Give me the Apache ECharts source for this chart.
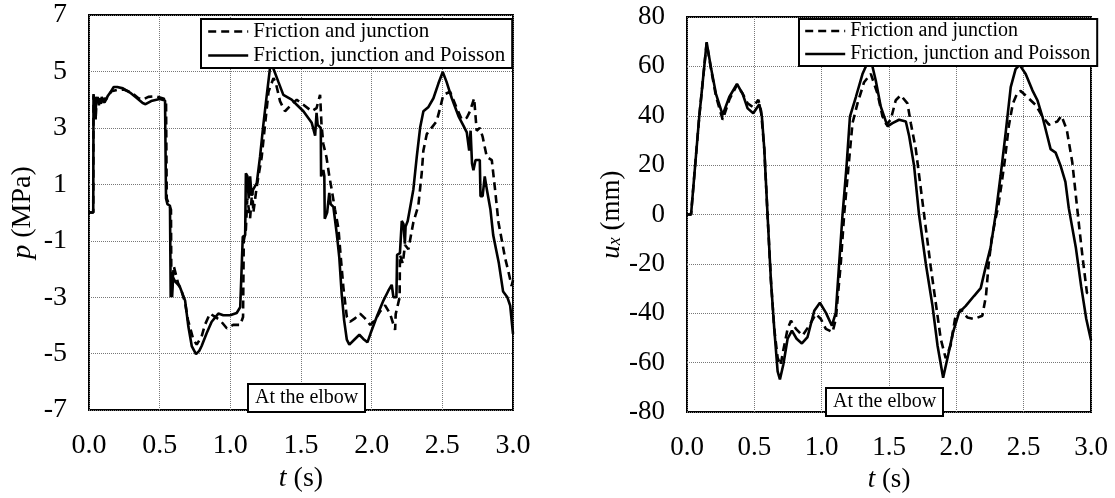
<!DOCTYPE html>
<html>
<head>
<meta charset="utf-8">
<script src="https://cdn.jsdelivr.net/npm/echarts@6/dist/echarts.min.js"></script>
<style>
html,body{margin:0;padding:0;background:#fff;}
#c{width:1115px;height:498px;}
</style>
</head>
<body>
<div id="c"></div>
<script>
// ---------- data ----------
const nameFJ = 'Friction and junction';
const nameFJP = 'Friction, junction and Poisson';
const annotation = 'At the elbow';

const pTicks = [-7, -5, -3, -1, 1, 3, 5, 7];
const tTicks = [0, 0.5, 1, 1.5, 2, 2.5, 3];
const uTicks = [-80, -60, -40, -20, 0, 20, 40, 60, 80];

// Left: pressure p (MPa), solid = friction, junction and Poisson
const pT_fjp = [0,0.03,0.032,0.045,0.047,0.05,0.058,0.062,0.07,0.075,0.085,0.09,0.1,0.105,0.12,0.135,0.15,0.175,0.2,0.24,0.29,0.34,0.38,0.4,0.44,0.5,0.538,0.545,0.555,0.573,0.578,0.583,0.588,0.595,0.61,0.63,0.644,0.68,0.703,0.727,0.757,0.78,0.797,0.833,0.868,0.915,0.95,0.998,1.045,1.07,1.084,1.088,1.105,1.11,1.12,1.13,1.14,1.15,1.16,1.187,1.21,1.234,1.258,1.28,1.295,1.34,1.375,1.434,1.47,1.517,1.576,1.6,1.61,1.618,1.64,1.642,1.658,1.665,1.668,1.685,1.7,1.71,1.729,1.753,1.771,1.788,1.805,1.824,1.842,1.882,1.913,1.941,1.97,1.993,2.036,2.083,2.118,2.142,2.15,2.154,2.175,2.18,2.2,2.213,2.225,2.235,2.24,2.255,2.27,2.295,2.319,2.343,2.366,2.4,2.437,2.472,2.503,2.53,2.567,2.614,2.65,2.673,2.69,2.7,2.705,2.71,2.72,2.735,2.765,2.77,2.785,2.8,2.815,2.84,2.86,2.88,2.9,2.93,2.96,2.98,3.0];
const pV_fjp = [0,0,4.2,4.2,3.3,4.1,3.9,4.1,3.8,4.05,3.85,4.1,3.9,4.05,4.0,4.15,4.25,4.45,4.45,4.4,4.25,4.05,3.88,3.84,3.95,4.02,3.97,0.5,0.3,0.24,-3.0,-2.2,-3.0,-2.3,-2.45,-2.55,-2.65,-3.12,-4.04,-4.73,-5.02,-4.9,-4.73,-4.27,-3.87,-3.58,-3.64,-3.64,-3.56,-3.35,-3.3,-0.86,-0.8,1.39,1.3,0.5,1.28,0.6,0.8,1.04,1.97,3.13,4.17,5.09,5.23,4.63,4.17,4.0,3.82,3.59,3.18,2.72,3.53,3.1,3.0,1.28,1.51,1.3,-0.22,0.0,0.7,0.3,0.2,-0.75,-1.6,-2.89,-3.81,-4.5,-4.68,-4.48,-4.33,-4.48,-4.6,-4.27,-3.69,-3.12,-2.77,-2.56,-2.6,-3.0,-3.0,-1.5,-1.44,-0.3,-0.4,-1.1,-0.5,-0.3,0.12,0.82,1.97,3.01,3.59,3.73,4.05,4.57,4.98,4.63,4.05,3.42,3.07,2.84,2.2,2.9,2.85,1.74,1.5,1.86,1.86,0.58,0.58,1.28,0.82,0.12,-0.8,-1.3,-1.8,-2.8,-3.0,-3.3,-4.3];

// Left: pressure p (MPa), dashed = friction and junction
const pT_fj = [0,0.03,0.032,0.045,0.048,0.053,0.07,0.09,0.11,0.13,0.16,0.2,0.25,0.3,0.35,0.38,0.42,0.47,0.52,0.545,0.55,0.565,0.58,0.583,0.6,0.61,0.63,0.65,0.68,0.7,0.738,0.762,0.797,0.82,0.856,0.89,0.927,0.975,1.02,1.07,1.09,1.095,1.11,1.12,1.14,1.155,1.163,1.187,1.222,1.246,1.27,1.305,1.32,1.352,1.387,1.42,1.47,1.517,1.576,1.61,1.635,1.645,1.658,1.68,1.7,1.717,1.74,1.765,1.78,1.8,1.824,1.847,1.882,1.918,1.953,1.99,2.024,2.06,2.095,2.13,2.166,2.17,2.198,2.2,2.22,2.236,2.26,2.295,2.33,2.354,2.366,2.39,2.425,2.46,2.484,2.507,2.555,2.602,2.637,2.673,2.696,2.725,2.743,2.765,2.786,2.8,2.815,2.85,2.873,2.897,2.944,2.967,2.99,3.0];
const pV_fj = [0,0,4.15,4.15,3.4,4.0,3.9,4.0,3.9,4.1,4.3,4.35,4.35,4.25,4.05,4.0,4.1,4.12,4.05,4.0,0.5,0.3,0.1,-2.9,-1.9,-2.1,-2.5,-2.7,-3.2,-3.8,-4.5,-4.68,-4.39,-3.98,-3.58,-3.69,-3.81,-4.1,-3.98,-3.98,-3.7,-1.0,-0.6,0.5,-0.2,0.8,0.0,0.93,1.97,3.13,4.28,4.76,4.63,3.94,3.59,3.76,4.0,3.82,3.59,3.7,4.17,3.13,2.43,1.97,1.3,0.82,0.12,-0.57,-1.5,-2.66,-3.69,-3.87,-3.75,-3.58,-3.75,-3.98,-3.81,-3.5,-3.29,-3.58,-4.16,-3.6,-3.0,-1.5,-1.8,-1.15,-1.3,-0.34,0.24,1.39,2.2,2.78,3.01,3.24,3.7,4.17,4.28,3.7,3.3,3.36,3.59,4.05,2.9,3.0,2.67,2.32,1.97,1.86,0.82,-0.34,-1.61,-2.08,-2.6,-2.4];

// Right: displacement u_x (mm), solid = friction, junction and Poisson
const uT_fjp = [0,0.03,0.091,0.146,0.178,0.215,0.265,0.314,0.371,0.413,0.45,0.492,0.537,0.556,0.574,0.598,0.623,0.648,0.673,0.69,0.715,0.747,0.779,0.814,0.853,0.895,0.945,0.987,1.031,1.076,1.105,1.13,1.155,1.185,1.21,1.254,1.303,1.348,1.365,1.402,1.439,1.489,1.526,1.575,1.625,1.65,1.686,1.723,1.773,1.823,1.86,1.902,1.934,1.976,2.02,2.07,2.131,2.181,2.218,2.255,2.292,2.329,2.366,2.404,2.44,2.47,2.515,2.565,2.602,2.639,2.676,2.7,2.737,2.774,2.81,2.835,2.887,2.927,2.965,3.0];
const uV_fjp = [0,0,39.7,69.8,59.5,48.9,40.3,47.6,52.9,48.9,43,41,44.7,39.7,26.5,0,-26.5,-46.3,-63.5,-66.8,-60.8,-50.3,-47,-50.3,-52.2,-49.6,-39,-35.7,-39.7,-45,-39.7,-19.8,0,19.8,39.7,47.6,56.9,62.4,62.8,54.2,43.7,35.7,37,38.4,37.7,31.7,19.8,0,-19.8,-37,-52.9,-66.1,-58.2,-47.6,-39.7,-37,-33,-29.8,-21.2,-13.2,0,15.9,33,51.6,58.9,60.6,56.9,50.3,46.3,39.7,31.7,26.5,25.1,19.8,13.2,2.6,-13.2,-29.1,-42.3,-50.9];

// Right: displacement u_x (mm), dashed = friction and junction
const uT_fj = [0,0.03,0.091,0.146,0.178,0.215,0.265,0.314,0.371,0.413,0.45,0.49,0.53,0.55,0.574,0.598,0.623,0.648,0.673,0.695,0.715,0.747,0.772,0.809,0.858,0.907,0.957,0.994,1.031,1.081,1.105,1.142,1.167,1.2,1.229,1.266,1.315,1.365,1.415,1.452,1.481,1.513,1.55,1.587,1.637,1.662,1.699,1.736,1.773,1.81,1.847,1.884,1.921,1.958,1.99,2.033,2.082,2.131,2.193,2.22,2.24,2.262,2.29,2.31,2.335,2.36,2.39,2.42,2.455,2.478,2.527,2.59,2.639,2.688,2.75,2.78,2.82,2.861,2.887,2.913,2.94,2.97,3.0];
const uV_fj = [0,0,39.7,69.5,59,48,38.4,46.5,52.5,49,45,43.5,46.5,42,26.5,0,-26.5,-46.3,-58,-61,-55,-46.3,-43,-46.3,-49,-45,-40.3,-42.3,-46.3,-47.6,-42.3,-19.8,0,19.8,37,45,53.6,57,48.9,39.7,36.4,38.4,46.3,48.3,45,37,26.5,10.6,-5.3,-21.2,-35.7,-50.3,-58.2,-52.9,-42.3,-38.4,-41.7,-42.3,-41,-33,-20,-10,-2,3,12,22,36,45,49.5,50,47.6,44.3,39.7,36.4,37.7,40,34.4,21.2,7.9,-5.3,-18.5,-31.7,-33];

// ---------- chart ----------
const FONT = '"Liberation Serif", "Times New Roman", serif';
const zip = (xs, ys) => xs.map((x, i) => [x, ys[i]]);

const chart = echarts.init(document.getElementById('c'), null, {renderer: 'canvas'});

const txt = size => ({fontFamily: FONT, fontSize: size, color: '#000'});
const splitStyle = {show: true, lineStyle: {color: '#777', width: 1, type: [1, 1]}};

function xAx(gridIndex, size) {
  return {
    type: 'value', gridIndex, min: tTicks[0], max: tTicks[tTicks.length - 1], interval: 0.5,
    axisLine: {show: false}, axisTick: {show: false},
    axisLabel: Object.assign({margin: 22, formatter: v => v.toFixed(1)}, txt(size)),
    splitLine: splitStyle,
    name: '{i|t} (s)', nameLocation: 'middle', nameGap: 50,
    nameTextStyle: Object.assign({rich: {i: Object.assign({fontStyle: 'italic'}, txt(size))}}, txt(size))
  };
}

function legendFor(left, top, size, padLeft) {
  return {
    left, top,
    orient: 'vertical', selectedMode: false,
    data: [nameFJ, nameFJP],
    itemWidth: 40, itemHeight: 19, itemGap: 3,
    padding: [2, 7, 2, padLeft],
    borderColor: '#000', borderWidth: 2, borderRadius: 0,
    backgroundColor: '#fff',
    itemStyle: {opacity: 0},
    lineStyle: {width: 2.4},
    textStyle: txt(size)
  };
}

function titleFor(left, top) {
  return {
    left, top,
    text: annotation,
    textStyle: Object.assign({fontWeight: 'normal'}, txt(20)),
    padding: [4, 7, 4, 7],
    borderColor: '#000', borderWidth: 2, backgroundColor: '#fff'
  };
}

const lineSolid = {color: '#000', width: 2.6, type: 'solid'};
const lineDash = {color: '#000', width: 2.6, type: [8, 5]};

chart.setOption({
  animation: false,
  backgroundColor: '#fff',
  grid: [
    {left: 89, top: 15, width: 424, height: 404, show: true, borderColor: '#000', borderWidth: 2, backgroundColor: 'transparent'},
    {left: 687, top: 17, width: 404, height: 404, show: true, borderColor: '#000', borderWidth: 2, backgroundColor: 'transparent'}
  ],
  xAxis: [xAx(0, 28), xAx(1, 27)],
  yAxis: [
    {
      type: 'value', gridIndex: 0, min: pTicks[0], max: pTicks[pTicks.length - 1],
      axisLine: {show: false},
      axisTick: {show: false, customValues: pTicks},
      axisLabel: Object.assign({margin: 22, customValues: pTicks}, txt(28)),
      splitLine: splitStyle,
      name: '{i|p} (MPa)', nameLocation: 'middle', nameGap: 52,
      nameTextStyle: Object.assign({rich: {i: Object.assign({fontStyle: 'italic'}, txt(28))}}, txt(28))
    },
    {
      type: 'value', gridIndex: 1, min: uTicks[0], max: uTicks[uTicks.length - 1], interval: 20,
      axisLine: {show: false}, axisTick: {show: false},
      axisLabel: Object.assign({margin: 22}, txt(27)),
      splitLine: splitStyle,
      name: '{i|u}{s|x}{n| (mm)}', nameLocation: 'middle', nameGap: 55,
      nameTextStyle: Object.assign({rich: {
        i: Object.assign({fontStyle: 'italic', lineHeight: 30, verticalAlign: 'top'}, txt(27)),
        s: Object.assign({fontStyle: 'italic', lineHeight: 30, verticalAlign: 'top', padding: [8, 0, 0, 0]}, txt(18)),
        n: Object.assign({lineHeight: 30, verticalAlign: 'top'}, txt(27))
      }}, txt(27))
    }
  ],
  legend: [
    legendFor(201, 19, 21, 6),
    legendFor(799, 19, 20, 5)
  ],
  title: [
    titleFor(248, 384),
    titleFor(826, 388)
  ],
  series: [
    {name: nameFJ, type: 'line', xAxisIndex: 0, yAxisIndex: 0, symbol: 'none', lineStyle: lineDash, itemStyle: {color: '#000'}, data: zip(pT_fj, pV_fj)},
    {name: nameFJP, type: 'line', xAxisIndex: 0, yAxisIndex: 0, symbol: 'none', lineStyle: lineSolid, itemStyle: {color: '#000'}, data: zip(pT_fjp, pV_fjp)},
    {name: nameFJ, type: 'line', xAxisIndex: 1, yAxisIndex: 1, symbol: 'none', lineStyle: lineDash, itemStyle: {color: '#000'}, data: zip(uT_fj, uV_fj)},
    {name: nameFJP, type: 'line', xAxisIndex: 1, yAxisIndex: 1, symbol: 'none', lineStyle: lineSolid, itemStyle: {color: '#000'}, data: zip(uT_fjp, uV_fjp)}
  ]
});
</script>
</body>
</html>
